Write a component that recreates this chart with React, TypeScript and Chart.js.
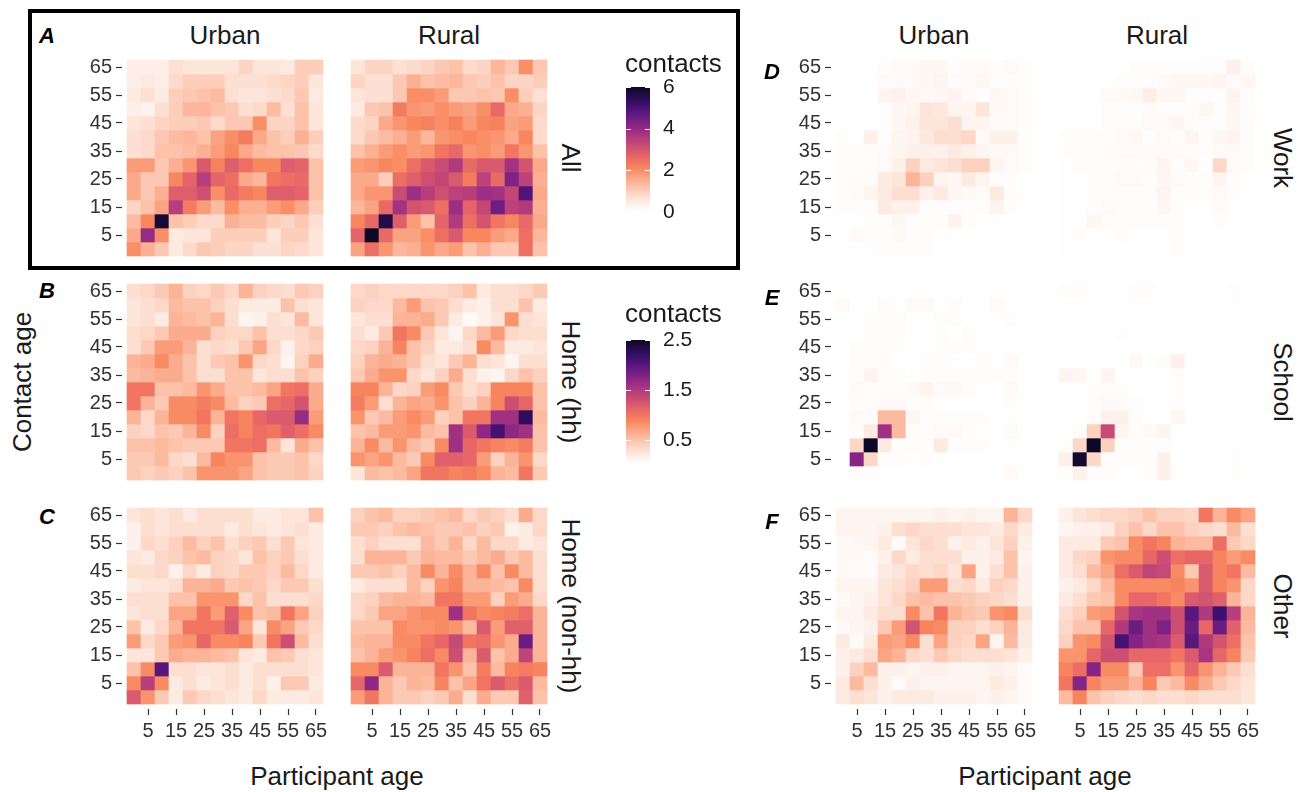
import React, { useEffect, useRef } from 'react';
import { Chart, registerables } from 'chart.js';

Chart.register(...registerables);

const FONT = '"Liberation Sans", Arial, Helvetica, sans-serif';
Chart.defaults.font.family = FONT;

// ---------- data ----------
// age bins (participant age on x, contact age on y)
const ageBins = [0, 5, 10, 15, 20, 25, 30, 35, 40, 45, 50, 55, 60, 65];
// indices of the age bins that carry a tick label (5, 15, ..., 65)
const labelledBins = [1, 3, 5, 7, 9, 11, 13];
const scaleMaxAll = 6;
const scaleMaxSetting = 2.5;
const legendTicksAll = [0, 2, 4, 6];
const legendTicksSetting = [0.5, 1.5, 2.5];

// every matrix: rows = contact age from 65 (top) down to 0 (bottom); columns = participant age 0..65
const allUrban = [
  [0.4, 0.4, 0.4, 0.7, 0.6, 0.6, 0.6, 0.6, 0.9, 0.6, 0.6, 0.5, 1.0, 1.0],
  [0.4, 0.5, 0.4, 0.8, 1.0, 1.0, 1.0, 0.7, 0.7, 0.7, 0.8, 0.9, 1.0, 0.6],
  [0.5, 0.7, 0.5, 1.0, 1.1, 1.2, 1.3, 0.7, 0.6, 0.6, 0.7, 0.8, 1.1, 0.5],
  [0.4, 0.3, 0.7, 1.0, 1.4, 1.4, 1.2, 1.1, 0.7, 0.8, 1.3, 0.7, 1.2, 0.6],
  [0.6, 0.7, 0.9, 1.0, 1.0, 1.1, 0.8, 1.1, 1.1, 2.0, 0.9, 0.9, 1.2, 0.6],
  [0.7, 0.8, 1.1, 1.3, 1.4, 1.2, 1.7, 2.0, 2.3, 1.6, 1.2, 1.0, 1.5, 1.0],
  [0.7, 0.8, 1.2, 1.2, 1.3, 1.5, 1.8, 2.1, 1.6, 1.3, 1.2, 1.2, 1.1, 0.8],
  [1.8, 1.8, 1.1, 1.5, 1.9, 2.9, 2.2, 2.8, 2.5, 2.1, 2.1, 2.8, 2.7, 1.2],
  [1.6, 1.1, 1.1, 2.1, 2.7, 3.5, 2.7, 2.5, 1.6, 1.4, 2.4, 2.5, 2.6, 1.2],
  [1.6, 1.1, 1.5, 2.8, 2.8, 3.1, 2.0, 2.6, 2.3, 2.1, 2.8, 2.8, 2.7, 1.2],
  [0.9, 1.2, 1.7, 3.5, 2.3, 1.8, 1.3, 2.0, 1.5, 1.5, 1.8, 2.0, 1.6, 1.0],
  [1.3, 2.1, 5.8, 1.2, 1.0, 0.8, 0.8, 1.5, 1.3, 1.3, 1.0, 0.9, 1.1, 0.7],
  [1.6, 4.0, 2.0, 0.5, 0.6, 0.6, 1.0, 1.0, 1.0, 1.0, 0.6, 1.0, 1.0, 0.6],
  [2.0, 1.5, 1.1, 0.5, 0.8, 1.1, 1.0, 0.9, 0.9, 0.7, 0.7, 0.9, 0.8, 0.6],
];
const allRural = [
  [0.6, 0.9, 0.9, 0.7, 0.8, 0.9, 1.1, 1.2, 0.8, 0.9, 1.4, 1.1, 2.0, 1.1],
  [0.9, 0.7, 0.7, 1.1, 1.5, 1.2, 1.3, 1.4, 1.1, 1.0, 1.2, 0.9, 0.9, 1.0],
  [0.6, 0.7, 0.7, 1.1, 2.0, 2.0, 1.8, 1.1, 1.1, 1.2, 1.1, 2.0, 1.0, 0.7],
  [0.5, 1.1, 1.2, 2.3, 1.9, 1.8, 2.0, 1.8, 1.7, 2.0, 2.6, 1.6, 1.5, 0.9],
  [0.8, 0.9, 1.6, 1.9, 2.1, 2.2, 2.0, 2.2, 1.8, 2.1, 2.2, 1.7, 1.8, 0.8],
  [0.8, 1.1, 1.3, 1.5, 1.8, 1.4, 1.9, 2.0, 2.1, 2.0, 1.9, 1.6, 2.1, 0.8],
  [1.2, 1.5, 1.8, 2.0, 1.8, 1.9, 2.4, 2.6, 1.9, 2.0, 1.8, 2.4, 1.9, 1.2],
  [1.8, 1.9, 2.1, 2.0, 2.5, 2.9, 3.2, 3.6, 2.6, 2.9, 2.9, 3.8, 3.0, 1.6],
  [1.6, 1.6, 1.0, 2.5, 2.8, 3.1, 3.3, 2.9, 2.3, 3.4, 2.6, 4.3, 3.4, 1.5],
  [1.6, 1.9, 1.9, 3.2, 3.9, 3.5, 3.1, 3.4, 3.5, 3.9, 3.8, 3.3, 4.9, 1.6],
  [1.4, 1.7, 2.6, 3.8, 3.0, 2.9, 2.5, 3.9, 2.7, 3.3, 4.5, 3.4, 3.6, 1.5],
  [2.1, 2.6, 5.6, 2.8, 1.8, 1.2, 2.7, 3.6, 2.5, 3.0, 2.4, 2.1, 2.6, 1.6],
  [2.7, 6.0, 2.6, 1.7, 1.7, 2.0, 2.5, 2.9, 2.1, 2.1, 1.8, 1.6, 2.5, 1.4],
  [1.7, 2.5, 1.9, 1.4, 1.5, 1.9, 1.6, 1.8, 1.2, 1.5, 1.1, 1.1, 2.5, 1.2],
];
const homeHhUrban = [
  [0.3, 0.35, 0.45, 0.6, 0.4, 0.35, 0.45, 0.35, 0.6, 0.4, 0.35, 0.3, 0.45, 0.4],
  [0.25, 0.3, 0.35, 0.55, 0.5, 0.5, 0.4, 0.3, 0.2, 0.2, 0.2, 0.5, 0.3, 0.25],
  [0.25, 0.3, 0.2, 0.6, 0.55, 0.5, 0.6, 0.3, 0.1, 0.15, 0.3, 0.25, 0.55, 0.25],
  [0.3, 0.35, 0.45, 0.65, 0.65, 0.65, 0.4, 0.35, 0.35, 0.5, 0.3, 0.3, 0.35, 0.45],
  [0.3, 0.45, 0.75, 0.75, 0.6, 0.3, 0.35, 0.3, 0.45, 0.7, 0.35, 0.15, 0.35, 0.4],
  [0.6, 0.65, 0.85, 0.65, 0.5, 0.3, 0.45, 0.5, 0.8, 0.35, 0.3, 0.1, 0.4, 0.65],
  [0.55, 0.6, 0.65, 0.65, 0.5, 0.3, 0.3, 0.5, 0.5, 0.25, 0.3, 0.3, 0.5, 0.4],
  [1.0, 1.0, 0.5, 0.5, 0.55, 0.8, 0.65, 0.5, 0.5, 0.55, 0.7, 1.0, 1.05, 0.65],
  [1.0, 0.6, 0.45, 0.85, 0.85, 0.95, 0.85, 0.55, 0.4, 0.45, 1.05, 1.1, 1.25, 0.65],
  [0.6, 0.35, 0.6, 0.85, 0.85, 1.0, 0.6, 1.0, 0.9, 1.1, 1.2, 1.2, 1.65, 0.75],
  [0.4, 0.35, 0.5, 0.45, 0.6, 0.85, 0.4, 1.05, 0.9, 1.05, 1.0, 1.15, 1.05, 0.85],
  [0.5, 0.5, 0.55, 0.5, 0.45, 0.45, 0.45, 1.0, 1.0, 1.05, 0.55, 0.25, 0.65, 0.5],
  [0.45, 0.45, 0.55, 0.35, 0.3, 0.55, 0.9, 0.8, 0.8, 0.5, 0.45, 0.45, 0.5, 0.35],
  [0.45, 0.4, 0.45, 0.4, 0.5, 0.8, 0.8, 0.8, 0.7, 0.5, 0.45, 0.45, 0.5, 0.4],
];
const homeHhRural = [
  [0.35, 0.4, 0.35, 0.35, 0.35, 0.35, 0.35, 0.4, 0.5, 0.2, 0.3, 0.3, 0.35, 0.45],
  [0.4, 0.35, 0.35, 0.55, 0.75, 0.5, 0.45, 0.3, 0.2, 0.15, 0.3, 0.3, 0.5, 0.2],
  [0.25, 0.3, 0.3, 0.6, 0.6, 0.65, 0.45, 0.2, 0.05, 0.15, 0.25, 0.8, 0.3, 0.25],
  [0.3, 0.2, 0.45, 1.0, 0.85, 0.45, 0.25, 0.1, 0.35, 0.55, 0.75, 0.35, 0.3, 0.3],
  [0.35, 0.4, 0.6, 0.9, 0.5, 0.4, 0.2, 0.2, 0.3, 0.85, 0.55, 0.2, 0.2, 0.25],
  [0.4, 0.6, 0.65, 0.6, 0.5, 0.3, 0.25, 0.45, 0.6, 0.3, 0.25, 0.1, 0.3, 0.3],
  [0.45, 0.65, 0.8, 0.8, 0.35, 0.25, 0.4, 0.65, 0.3, 0.15, 0.1, 0.35, 0.5, 0.4],
  [0.9, 0.9, 0.6, 0.35, 0.4, 0.75, 0.85, 0.45, 0.3, 0.4, 0.9, 0.9, 0.9, 0.5],
  [0.95, 0.75, 0.3, 0.6, 0.7, 0.65, 0.8, 0.5, 0.4, 0.6, 0.9, 1.3, 1.1, 0.5],
  [0.8, 0.45, 0.55, 0.75, 0.85, 0.75, 0.4, 0.5, 1.0, 1.0, 1.6, 1.6, 2.25, 0.55],
  [0.5, 0.55, 0.75, 0.75, 0.8, 0.55, 0.5, 1.6, 1.2, 1.7, 2.1, 1.7, 1.6, 0.5],
  [0.6, 0.85, 0.55, 0.8, 0.55, 0.45, 0.85, 1.6, 1.1, 1.0, 0.9, 0.85, 0.95, 0.5],
  [0.8, 0.7, 0.8, 0.55, 0.45, 0.85, 1.15, 1.15, 1.1, 0.75, 0.4, 0.6, 0.8, 0.35],
  [0.25, 0.55, 0.5, 0.55, 0.7, 1.0, 1.0, 0.9, 0.95, 0.85, 0.6, 0.55, 1.0, 0.45],
];
const homeNonHhUrban = [
  [0.25, 0.3, 0.25, 0.3, 0.2, 0.3, 0.3, 0.3, 0.3, 0.2, 0.2, 0.25, 0.25, 0.5],
  [0.15, 0.3, 0.25, 0.3, 0.3, 0.3, 0.3, 0.2, 0.3, 0.25, 0.2, 0.25, 0.3, 0.2],
  [0.15, 0.35, 0.3, 0.4, 0.55, 0.4, 0.5, 0.3, 0.4, 0.45, 0.3, 0.45, 0.25, 0.2],
  [0.25, 0.2, 0.35, 0.4, 0.5, 0.55, 0.4, 0.35, 0.25, 0.5, 0.4, 0.45, 0.3, 0.2],
  [0.3, 0.3, 0.35, 0.15, 0.35, 0.2, 0.4, 0.35, 0.45, 0.45, 0.4, 0.55, 0.35, 0.2],
  [0.2, 0.25, 0.25, 0.3, 0.6, 0.6, 0.65, 0.45, 0.5, 0.45, 0.35, 0.45, 0.45, 0.3],
  [0.3, 0.3, 0.3, 0.5, 0.5, 0.8, 0.8, 0.8, 0.35, 0.5, 0.3, 0.3, 0.3, 0.35],
  [0.25, 0.3, 0.3, 0.7, 0.7, 1.0, 0.75, 1.15, 0.85, 0.5, 0.55, 1.0, 0.7, 0.4],
  [0.5, 0.2, 0.35, 0.6, 1.0, 1.0, 1.0, 1.2, 0.7, 0.25, 0.85, 0.7, 0.45, 0.35],
  [0.75, 0.35, 0.45, 0.75, 0.8, 1.1, 0.85, 0.85, 0.9, 0.45, 1.0, 1.3, 0.55, 0.3],
  [0.25, 0.25, 0.45, 0.65, 0.6, 0.6, 0.55, 0.5, 0.25, 0.2, 0.5, 0.45, 0.3, 0.25],
  [0.5, 0.85, 2.0, 0.3, 0.3, 0.25, 0.25, 0.3, 0.2, 0.3, 0.3, 0.3, 0.3, 0.25],
  [0.85, 1.45, 0.85, 0.2, 0.3, 0.2, 0.25, 0.3, 0.2, 0.3, 0.15, 0.45, 0.45, 0.2],
  [1.2, 0.8, 0.45, 0.2, 0.45, 0.35, 0.3, 0.25, 0.2, 0.35, 0.2, 0.2, 0.2, 0.25],
];
const homeNonHhRural = [
  [0.4, 0.5, 0.55, 0.4, 0.4, 0.45, 0.5, 0.55, 0.35, 0.45, 0.4, 0.3, 0.65, 0.35],
  [0.45, 0.45, 0.4, 0.5, 0.55, 0.5, 0.45, 0.45, 0.5, 0.4, 0.45, 0.15, 0.2, 0.35],
  [0.3, 0.4, 0.3, 0.3, 0.3, 0.55, 0.45, 0.6, 0.35, 0.55, 0.35, 0.35, 0.2, 0.25],
  [0.3, 0.6, 0.6, 0.6, 0.45, 0.6, 0.55, 0.55, 0.45, 0.55, 0.65, 0.45, 0.55, 0.3],
  [0.45, 0.45, 0.5, 0.4, 0.55, 0.85, 0.6, 0.85, 0.6, 0.85, 0.5, 0.85, 0.55, 0.3],
  [0.2, 0.3, 0.3, 0.3, 0.55, 0.4, 0.8, 0.9, 0.6, 0.6, 0.55, 0.5, 0.85, 0.3],
  [0.35, 0.4, 0.55, 0.6, 0.6, 0.55, 1.0, 1.0, 0.75, 0.75, 0.4, 0.75, 0.65, 0.35],
  [0.35, 0.45, 0.7, 0.7, 0.8, 0.85, 0.85, 1.6, 1.0, 0.85, 0.9, 0.95, 1.05, 0.6],
  [0.5, 0.5, 0.5, 0.85, 0.8, 0.8, 0.85, 0.8, 0.55, 1.2, 0.75, 1.15, 1.15, 0.6],
  [0.55, 0.6, 0.6, 0.85, 0.85, 1.0, 1.1, 1.35, 1.0, 1.05, 0.8, 0.65, 1.9, 0.6],
  [0.5, 0.6, 0.75, 0.8, 0.9, 1.05, 0.85, 1.3, 0.6, 1.2, 0.5, 0.65, 1.4, 0.6],
  [0.85, 0.85, 1.2, 0.6, 0.6, 0.6, 1.0, 0.8, 0.5, 0.95, 0.55, 0.9, 0.95, 0.9],
  [1.1, 1.7, 0.6, 0.45, 0.6, 0.55, 0.9, 0.5, 0.7, 1.0, 1.2, 1.05, 1.2, 0.55],
  [0.75, 1.0, 0.6, 0.45, 0.45, 0.4, 0.45, 0.65, 0.3, 0.65, 0.45, 0.45, 1.15, 0.5],
];
const workUrban = [
  [0, 0, 0, 0.03, 0.05, 0.06, 0.08, 0.08, 0.03, 0.05, 0.05, 0.02, 0.05, 0.02],
  [0, 0, 0, 0.05, 0.05, 0.06, 0.08, 0.1, 0.05, 0.05, 0.08, 0.03, 0.03, 0.02],
  [0, 0, 0, 0.1, 0.15, 0.08, 0.05, 0.08, 0.12, 0.05, 0.02, 0.08, 0.05, 0.02],
  [0, 0, 0, 0.02, 0.07, 0.1, 0.25, 0.22, 0.1, 0.1, 0.25, 0.06, 0.05, 0.03],
  [0, 0, 0, 0.02, 0.07, 0.15, 0.25, 0.25, 0.3, 0.12, 0.1, 0.06, 0.05, 0.02],
  [0.02, 0, 0.15, 0.02, 0.1, 0.12, 0.22, 0.3, 0.3, 0.35, 0.05, 0.15, 0.15, 0.03],
  [0.02, 0.02, 0.03, 0.06, 0.1, 0.15, 0.15, 0.15, 0.2, 0.15, 0.1, 0.06, 0.05, 0.02],
  [0.02, 0.02, 0.03, 0.05, 0.15, 0.4, 0.2, 0.25, 0.3, 0.4, 0.4, 0.1, 0.06, 0.02],
  [0.02, 0.03, 0.05, 0.2, 0.25, 0.6, 0.4, 0.12, 0.08, 0.2, 0.1, 0.03, 0.02, 0.01],
  [0.02, 0.05, 0.1, 0.2, 0.3, 0.3, 0.15, 0.2, 0.08, 0.05, 0.05, 0.2, 0.03, 0.01],
  [0.03, 0.03, 0.03, 0.2, 0.15, 0.15, 0.03, 0.03, 0.02, 0.02, 0.02, 0.12, 0.02, 0.01],
  [0.01, 0.01, 0.02, 0.03, 0.08, 0.02, 0.02, 0.02, 0.12, 0.02, 0.01, 0.01, 0.01, 0.01],
  [0.01, 0.05, 0.02, 0.02, 0.05, 0.02, 0.02, 0.01, 0.01, 0.01, 0.01, 0.01, 0.01, 0.01],
  [0.01, 0.01, 0.01, 0.03, 0.03, 0.02, 0.02, 0.01, 0.01, 0.01, 0.01, 0.01, 0.01, 0.01],
];
const workRural = [
  [0, 0, 0, 0, 0, 0.02, 0.03, 0.02, 0.02, 0.02, 0.03, 0.02, 0.15, 0.02],
  [0, 0, 0, 0, 0.02, 0.03, 0.03, 0.05, 0.08, 0.08, 0.08, 0.1, 0.05, 0.08],
  [0, 0, 0, 0.05, 0.05, 0.08, 0.18, 0.07, 0.08, 0.02, 0.03, 0.03, 0.12, 0.02],
  [0, 0, 0, 0.02, 0.03, 0.02, 0.05, 0.03, 0.02, 0.02, 0.08, 0.02, 0.08, 0.03],
  [0, 0, 0, 0.02, 0.03, 0.02, 0.06, 0.05, 0.1, 0.03, 0.02, 0.03, 0.08, 0.02],
  [0.02, 0.02, 0.02, 0.03, 0.05, 0.08, 0.02, 0.06, 0.02, 0.1, 0.02, 0.08, 0.12, 0.02],
  [0.02, 0.02, 0.02, 0.03, 0.06, 0.06, 0.05, 0.05, 0.05, 0.03, 0.03, 0.05, 0.06, 0.02],
  [0.01, 0.02, 0.03, 0.03, 0.03, 0.03, 0.05, 0.1, 0.02, 0.08, 0.01, 0.35, 0.05, 0.02],
  [0.01, 0.01, 0.02, 0.03, 0.05, 0.05, 0.03, 0.08, 0.05, 0.03, 0.02, 0.1, 0.02, 0.01],
  [0.01, 0.01, 0.02, 0.03, 0.02, 0.03, 0.02, 0.1, 0.02, 0.02, 0.02, 0.05, 0.02, 0.01],
  [0.01, 0.01, 0.02, 0.05, 0.03, 0.02, 0.02, 0.07, 0.02, 0.01, 0.01, 0.05, 0.01, 0.01],
  [0.01, 0.01, 0.08, 0.03, 0.02, 0.02, 0.02, 0.02, 0.02, 0.01, 0.01, 0.02, 0.01, 0.01],
  [0.01, 0.02, 0.01, 0.01, 0.02, 0.01, 0.01, 0.01, 0.03, 0.01, 0.01, 0.01, 0.01, 0.01],
  [0.01, 0.01, 0.01, 0.01, 0.01, 0.01, 0.01, 0.01, 0.02, 0.01, 0.01, 0.01, 0.01, 0.01],
];
const schoolUrban = [
  [0.01, 0.01, 0.01, 0.01, 0.01, 0.01, 0.01, 0.01, 0.01, 0.01, 0.01, 0.01, 0.01, 0.01],
  [0.05, 0, 0, 0.03, 0, 0.05, 0.05, 0, 0.03, 0, 0, 0.05, 0, 0],
  [0, 0, 0.02, 0.02, 0.03, 0, 0, 0.02, 0.02, 0, 0, 0, 0.02, 0],
  [0, 0, 0.02, 0.02, 0.02, 0, 0, 0.02, 0, 0.02, 0, 0, 0, 0],
  [0, 0.02, 0.02, 0.03, 0.02, 0, 0, 0.02, 0.03, 0.02, 0, 0, 0, 0],
  [0, 0.02, 0.03, 0.03, 0, 0, 0.02, 0.03, 0, 0, 0.03, 0, 0.05, 0],
  [0, 0.03, 0.12, 0.03, 0.02, 0, 0.02, 0.02, 0.02, 0.02, 0.03, 0.02, 0.02, 0],
  [0, 0.05, 0.03, 0.03, 0.02, 0.05, 0.12, 0.05, 0.05, 0.02, 0.01, 0.01, 0.05, 0],
  [0, 0.02, 0.03, 0.05, 0.05, 0.02, 0.02, 0.01, 0.01, 0.01, 0.01, 0.01, 0.02, 0],
  [0, 0.05, 0.03, 0.55, 0.55, 0.08, 0.02, 0.02, 0.02, 0.02, 0.02, 0.01, 0.01, 0],
  [0, 0.03, 0.2, 1.6, 0.55, 0.03, 0.02, 0.05, 0.05, 0.02, 0.01, 0.01, 0.05, 0],
  [0, 0.35, 2.5, 0.2, 0.02, 0.02, 0.02, 0.2, 0.03, 0.02, 0.02, 0.01, 0.01, 0],
  [0, 1.75, 0.35, 0.03, 0.03, 0.01, 0.02, 0.01, 0.01, 0.01, 0.01, 0.01, 0.01, 0],
  [0, 0.02, 0.01, 0.01, 0.01, 0.01, 0.01, 0.01, 0.01, 0.01, 0.01, 0.01, 0.06, 0],
];
const schoolRural = [
  [0.03, 0.03, 0, 0, 0, 0.03, 0.03, 0, 0, 0, 0, 0, 0.03, 0],
  [0, 0, 0, 0, 0, 0, 0, 0, 0, 0, 0, 0, 0, 0],
  [0, 0, 0, 0, 0, 0, 0, 0, 0, 0, 0, 0, 0, 0],
  [0, 0, 0, 0, 0.02, 0, 0, 0, 0, 0, 0, 0, 0, 0],
  [0, 0, 0, 0, 0, 0, 0, 0, 0, 0, 0, 0, 0, 0],
  [0, 0, 0, 0, 0, 0.05, 0, 0.04, 0.15, 0, 0, 0, 0, 0],
  [0.1, 0.08, 0, 0.1, 0, 0, 0, 0, 0.02, 0, 0, 0, 0, 0],
  [0, 0, 0.02, 0.03, 0.02, 0, 0, 0, 0.03, 0, 0, 0, 0, 0],
  [0, 0, 0.02, 0.05, 0.05, 0.02, 0, 0, 0.02, 0, 0, 0, 0, 0],
  [0, 0, 0.03, 0.15, 0.15, 0.03, 0, 0, 0.08, 0, 0, 0, 0, 0],
  [0, 0.03, 0.4, 1.35, 0.12, 0.02, 0.05, 0.1, 0, 0, 0, 0, 0, 0],
  [0.02, 0.35, 2.5, 0.4, 0.02, 0.02, 0.02, 0.02, 0, 0, 0, 0, 0, 0],
  [0.15, 2.45, 0.35, 0.03, 0.02, 0.02, 0.02, 0.15, 0, 0, 0, 0, 0.02, 0],
  [0.02, 0.15, 0.03, 0.02, 0.01, 0.01, 0.02, 0.15, 0, 0, 0, 0, 0.02, 0],
];
const otherUrban = [
  [0.1, 0.1, 0.1, 0.1, 0.1, 0.1, 0.1, 0.15, 0.1, 0.15, 0.1, 0.1, 0.6, 0.35],
  [0.1, 0.1, 0.1, 0.15, 0.3, 0.35, 0.3, 0.3, 0.3, 0.25, 0.25, 0.2, 0.35, 0.2],
  [0.05, 0.08, 0.1, 0.2, 0.05, 0.25, 0.35, 0.3, 0.15, 0.2, 0.15, 0.25, 0.4, 0.15],
  [0.05, 0.05, 0.05, 0.15, 0.35, 0.2, 0.3, 0.3, 0.3, 0.15, 0.15, 0.2, 0.5, 0.1],
  [0.05, 0.05, 0.05, 0.2, 0.25, 0.35, 0.3, 0.35, 0.25, 0.7, 0.15, 0.3, 0.5, 0.15],
  [0.1, 0.1, 0.1, 0.25, 0.3, 0.4, 0.75, 0.75, 0.3, 0.35, 0.2, 0.4, 0.35, 0.15],
  [0.05, 0.1, 0.15, 0.25, 0.35, 0.5, 0.55, 0.5, 0.5, 0.45, 0.4, 0.35, 0.3, 0.15],
  [0.1, 0.1, 0.2, 0.3, 0.3, 0.85, 0.5, 1.0, 0.6, 0.5, 0.45, 0.8, 0.85, 0.3],
  [0.05, 0.1, 0.15, 0.45, 0.75, 1.25, 0.9, 0.85, 0.4, 0.4, 0.3, 0.4, 0.6, 0.2],
  [0.2, 0.05, 0.2, 0.75, 0.7, 0.85, 0.3, 0.7, 0.4, 0.35, 0.7, 0.1, 0.55, 0.2],
  [0.15, 0.2, 0.3, 0.7, 0.6, 0.35, 0.3, 0.45, 0.35, 0.3, 0.3, 0.3, 0.25, 0.15],
  [0.15, 0.4, 0.55, 0.15, 0.15, 0.1, 0.15, 0.15, 0.1, 0.1, 0.1, 0.15, 0.1, 0.05],
  [0.2, 0.55, 0.3, 0.15, 0.05, 0.15, 0.1, 0.1, 0.1, 0.1, 0.1, 0.2, 0.15, 0.05],
  [0.2, 0.3, 0.25, 0.15, 0.2, 0.2, 0.2, 0.15, 0.15, 0.15, 0.1, 0.15, 0.1, 0.05],
];
const otherRural = [
  [0.15, 0.25, 0.3, 0.35, 0.35, 0.4, 0.5, 0.4, 0.4, 0.35, 1.0, 0.6, 0.85, 0.7],
  [0.1, 0.15, 0.15, 0.2, 0.4, 0.5, 0.35, 0.5, 0.5, 0.4, 0.35, 0.3, 0.55, 0.3],
  [0.2, 0.2, 0.2, 0.45, 0.5, 0.85, 1.0, 0.9, 0.6, 0.55, 0.55, 1.05, 0.45, 0.35],
  [0.2, 0.35, 0.4, 0.8, 0.85, 0.85, 1.1, 1.3, 1.05, 1.1, 1.1, 0.9, 0.75, 0.85],
  [0.2, 0.3, 0.55, 0.7, 1.05, 1.2, 1.4, 1.35, 0.85, 0.45, 1.2, 0.9, 1.0, 0.55],
  [0.15, 0.2, 0.35, 0.55, 0.85, 0.85, 0.85, 0.85, 0.9, 0.8, 1.2, 0.9, 0.8, 0.35],
  [0.2, 0.3, 0.45, 0.5, 0.85, 1.1, 1.1, 1.0, 0.85, 1.2, 1.25, 1.15, 0.6, 0.35],
  [0.3, 0.4, 0.75, 0.8, 1.25, 1.55, 1.6, 1.6, 1.3, 2.0, 1.5, 2.15, 1.45, 0.6],
  [0.35, 0.5, 0.5, 1.1, 1.5, 1.9, 1.6, 1.8, 1.3, 1.9, 1.1, 1.9, 1.15, 0.55],
  [0.4, 0.8, 0.85, 1.25, 2.1, 1.75, 1.6, 1.55, 1.2, 2.0, 1.5, 1.25, 1.05, 0.5],
  [0.8, 0.8, 1.1, 1.3, 1.3, 1.1, 1.1, 1.1, 1.0, 1.2, 1.55, 1.1, 0.9, 0.45],
  [0.9, 1.05, 1.75, 0.85, 0.85, 0.45, 1.05, 1.05, 0.8, 1.1, 0.8, 0.6, 0.45, 0.3],
  [1.0, 1.75, 0.9, 0.75, 0.75, 0.6, 0.9, 0.45, 0.55, 0.85, 0.65, 0.45, 0.35, 0.25],
  [0.55, 0.9, 0.5, 0.4, 0.35, 0.3, 0.35, 0.3, 0.3, 0.35, 0.3, 0.3, 0.3, 0.25],
];

// ---------- colour scale (fraction of scale maximum -> colour) ----------
const cmapStops: [number, string][] = [
  [0.0, '#ffffff'],
  [0.05, '#fef3ee'],
  [0.1, '#fde5da'],
  [0.15, '#fdd5c4'],
  [0.2, '#fcc2aa'],
  [0.25, '#fbb093'],
  [0.3, '#fa9c78'],
  [0.35, '#f8875f'],
  [0.4, '#f17560'],
  [0.45, '#e4646a'],
  [0.5, '#d2556f'],
  [0.567, '#bd4279'],
  [0.633, '#a33282'],
  [0.7, '#862485'],
  [0.783, '#5f197f'],
  [0.867, '#3a0f6b'],
  [1.0, '#0c0826'],
];
function hexRgb(h: string) {
  const n = parseInt(h.slice(1), 16);
  return [(n >> 16) & 255, (n >> 8) & 255, n & 255];
}
function colorAt(v: number, max: number) {
  const f = Math.max(0, Math.min(1, v / max));
  for (let i = 1; i < cmapStops.length; i++) {
    const [f1, c1] = cmapStops[i];
    if (f <= f1) {
      const [f0, c0] = cmapStops[i - 1];
      const t = (f - f0) / (f1 - f0);
      const a = hexRgb(c0), b = hexRgb(c1);
      const m = a.map((x, k) => Math.round(x + (b[k] - x) * t));
      return `rgb(${m[0]},${m[1]},${m[2]})`;
    }
  }
  return cmapStops[cmapStops.length - 1][1];
}

// ---------- layout ----------
const CELL = 14;
const GAP = 5; // panel expansion beyond the tiles (px)
const PANEL = CELL * 14 + 2 * GAP;
const Y_AXIS_W = 60;
const X_AXIS_H = 50;
const EXP = GAP / CELL;
const TICK_COLOR = '#333333';
const TEXT_COLOR = '#1a1a1a';

type PanelProps = { values: number[][]; max: number; left: number; top: number; showX: boolean; showY: boolean };

function HeatPanel({ values, max, left, top, showX, showY }: PanelProps) {
  const ref = useRef<HTMLCanvasElement>(null);
  const yW = showY ? Y_AXIS_W : 0;
  const xH = showX ? X_AXIS_H : 0;
  const W = PANEL + yW;
  const H = PANEL + xH;
  useEffect(() => {
    const n = ageBins.length;
    const datasets = values.map((row, r) => {
      const yi = n - 1 - r;
      return {
        data: row.map((_v, xi) => ({ x: xi, y: [yi - 0.5, yi + 0.5] })),
        backgroundColor: row.map((v) => colorAt(v, max)),
        borderWidth: 0,
        grouped: false,
        barPercentage: 1,
        categoryPercentage: 1,
      };
    });
    const axisCommon = (display: boolean, fit: (s: any) => void) => ({
      type: 'linear' as const,
      display,
      min: -0.5 - EXP,
      max: n - 0.5 + EXP,
      bounds: 'data' as const,
      offset: false,
      afterBuildTicks: (s: any) => {
        s.ticks = labelledBins.map((v) => ({ value: v }));
      },
      afterFit: (s: any) => {
        if (display) fit(s);
      },
      ticks: {
        autoSkip: false,
        maxRotation: 0,
        padding: 4,
        color: TICK_COLOR,
        font: { size: 20, family: FONT },
        callback: (v: any) => String(ageBins[Math.round(Number(v))]),
      },
      grid: {
        display: true,
        drawOnChartArea: false,
        drawTicks: true,
        tickLength: 6,
        offset: false,
        color: TICK_COLOR,
        tickColor: TICK_COLOR,
        tickWidth: 1.2,
      },
      border: { display: false },
    });
    const chart = new Chart(ref.current as HTMLCanvasElement, {
      type: 'bar',
      data: { datasets: datasets as any },
      options: {
        animation: false,
        responsive: false,
        maintainAspectRatio: false,
        events: [],
        layout: { padding: 0 },
        plugins: { legend: { display: false }, tooltip: { enabled: false }, title: { display: false } },
        scales: {
          x: {
            ...axisCommon(showX, (s: any) => {
              s.height = X_AXIS_H;
              s.paddingLeft = 0;
              s.paddingRight = 0;
            }),
            position: 'bottom',
          },
          y: {
            ...axisCommon(showY, (s: any) => {
              s.width = Y_AXIS_W;
              s.paddingTop = 0;
              s.paddingBottom = 0;
            }),
            position: 'left',
          },
        },
      } as any,
    });
    return () => chart.destroy();
  }, []);
  return (
    <canvas
      ref={ref}
      width={W}
      height={H}
      style={{ position: 'absolute', left: left - yW, top, width: W, height: H }}
    />
  );
}

type BarProps = { max: number; tickVals: number[]; left: number; top: number };
const BAR_W = 24;
const BAR_H = 125;
const BAR_PAD = 16;
const BAR_AXIS_W = 50;

function ColorBar({ max, tickVals, left, top }: BarProps) {
  const ref = useRef<HTMLCanvasElement>(null);
  const W = BAR_W + BAR_AXIS_W;
  const H = BAR_H + 2 * BAR_PAD;
  useEffect(() => {
    const whiteTicks = {
      id: 'whiteTicks',
      afterDatasetsDraw(chart: any) {
        const { ctx, chartArea: a } = chart;
        const ys = chart.scales.y;
        ctx.save();
        ctx.strokeStyle = '#ffffff';
        ctx.lineWidth = 1;
        for (const v of tickVals) {
          const py = Math.round(ys.getPixelForValue(v)) + 0.5;
          ctx.beginPath();
          ctx.moveTo(a.left, py);
          ctx.lineTo(a.left + 5, py);
          ctx.moveTo(a.right - 5, py);
          ctx.lineTo(a.right, py);
          ctx.stroke();
        }
        ctx.restore();
      },
    };
    const chart = new Chart(ref.current as HTMLCanvasElement, {
      type: 'bar',
      data: {
        labels: ['contacts'],
        datasets: [
          {
            data: [[0, max]],
            borderWidth: 0,
            barPercentage: 1,
            categoryPercentage: 1,
            backgroundColor: (c: any) => {
              const ch = c.chart;
              if (!ch.chartArea) return colorAt(max / 2, max);
              const ys = ch.scales.y;
              const g = ch.ctx.createLinearGradient(0, ys.getPixelForValue(0), 0, ys.getPixelForValue(max));
              const steps = 60;
              for (let i = 0; i <= steps; i++) g.addColorStop(i / steps, colorAt((max * i) / steps, max));
              return g;
            },
          },
        ],
      } as any,
      options: {
        animation: false,
        responsive: false,
        maintainAspectRatio: false,
        events: [],
        layout: { padding: { top: BAR_PAD, bottom: BAR_PAD, left: 0, right: 0 } },
        plugins: { legend: { display: false }, tooltip: { enabled: false } },
        scales: {
          x: { display: false, offset: true },
          y: {
            position: 'right',
            min: 0,
            max,
            afterBuildTicks: (s: any) => {
              s.ticks = tickVals.map((v) => ({ value: v }));
            },
            afterFit: (s: any) => {
              s.width = BAR_AXIS_W;
              s.paddingTop = 0;
              s.paddingBottom = 0;
            },
            grid: { display: false, drawTicks: false },
            border: { display: false },
            ticks: {
              padding: 13,
              color: TEXT_COLOR,
              font: { size: 21, family: FONT },
              callback: (v: any) => String(v),
            },
          },
        },
      } as any,
      plugins: [whiteTicks],
    });
    return () => chart.destroy();
  }, []);
  return (
    <canvas
      ref={ref}
      width={W}
      height={H}
      style={{ position: 'absolute', left, top: top - BAR_PAD, width: W, height: H }}
    />
  );
}

function Label({ text, x, y, size = 26, rotate = 0, style = {} }: { text: string; x: number; y: number; size?: number; rotate?: number; style?: any }) {
  return (
    <div
      style={{
        position: 'absolute',
        left: x,
        top: y,
        transform: `translate(-50%, -50%) rotate(${rotate}deg)`,
        fontFamily: FONT,
        fontSize: size,
        lineHeight: 1,
        whiteSpace: 'nowrap',
        color: TEXT_COLOR,
        ...style,
      }}
    >
      {text}
    </div>
  );
}

export default function App() {
  const cols = { lu: 122, lr: 346, ru: 831, rr: 1054 };
  const rows = { a: 55, b: 279, c: 503 };
  const letter = { fontWeight: 'bold', fontStyle: 'italic', color: '#000' };
  return (
    <div style={{ position: 'absolute', left: 0, top: 0, width: 1304, height: 792, background: '#fff', overflow: 'hidden' }}>
      {/* framed panel A */}
      <div style={{ position: 'absolute', left: 28, top: 9, width: 712, height: 261, border: '4px solid #000', boxSizing: 'border-box' }} />

      <HeatPanel values={allUrban} max={scaleMaxAll} left={cols.lu} top={rows.a} showX={false} showY />
      <HeatPanel values={allRural} max={scaleMaxAll} left={cols.lr} top={rows.a} showX={false} showY={false} />
      <HeatPanel values={homeHhUrban} max={scaleMaxSetting} left={cols.lu} top={rows.b} showX={false} showY />
      <HeatPanel values={homeHhRural} max={scaleMaxSetting} left={cols.lr} top={rows.b} showX={false} showY={false} />
      <HeatPanel values={homeNonHhUrban} max={scaleMaxSetting} left={cols.lu} top={rows.c} showX showY />
      <HeatPanel values={homeNonHhRural} max={scaleMaxSetting} left={cols.lr} top={rows.c} showX showY={false} />

      <HeatPanel values={workUrban} max={scaleMaxSetting} left={cols.ru} top={rows.a} showX={false} showY />
      <HeatPanel values={workRural} max={scaleMaxSetting} left={cols.rr} top={rows.a} showX={false} showY={false} />
      <HeatPanel values={schoolUrban} max={scaleMaxSetting} left={cols.ru} top={rows.b} showX={false} showY />
      <HeatPanel values={schoolRural} max={scaleMaxSetting} left={cols.rr} top={rows.b} showX={false} showY={false} />
      <HeatPanel values={otherUrban} max={scaleMaxSetting} left={cols.ru} top={rows.c} showX showY />
      <HeatPanel values={otherRural} max={scaleMaxSetting} left={cols.rr} top={rows.c} showX showY={false} />

      <ColorBar max={scaleMaxAll} tickVals={legendTicksAll} left={626} top={87} />
      <ColorBar max={scaleMaxSetting} tickVals={legendTicksSetting} left={626} top={340} />
      <div style={{ position: 'absolute', left: 625, top: 63, transform: 'translateY(-50%)', fontFamily: FONT, fontSize: 26, lineHeight: 1, color: TEXT_COLOR }}>contacts</div>
      <div style={{ position: 'absolute', left: 625, top: 313, transform: 'translateY(-50%)', fontFamily: FONT, fontSize: 26, lineHeight: 1, color: TEXT_COLOR }}>contacts</div>

      <Label text="Urban" x={225} y={35} />
      <Label text="Rural" x={449} y={35} />
      <Label text="Urban" x={934} y={35} />
      <Label text="Rural" x={1157} y={35} />

      <Label text="All" x={571} y={158} rotate={90} />
      <Label text="Home (hh)" x={571} y={382} rotate={90} />
      <Label text="Home (non-hh)" x={571} y={606} rotate={90} />
      <Label text="Work" x={1283} y={158} rotate={90} />
      <Label text="School" x={1283} y={382} rotate={90} />
      <Label text="Other" x={1283} y={606} rotate={90} />

      <Label text="A" x={47} y={36} size={22} style={letter} />
      <Label text="B" x={47} y={291} size={22} style={letter} />
      <Label text="C" x={47} y={517} size={22} style={letter} />
      <Label text="D" x={772} y={72} size={22} style={letter} />
      <Label text="E" x={772} y={298} size={22} style={letter} />
      <Label text="F" x={772} y={522} size={22} style={letter} />

      <Label text="Contact age" x={22} y={382} rotate={-90} />
      <Label text="Participant age" x={337} y={776} />
      <Label text="Participant age" x={1045} y={776} />
    </div>
  );
}
